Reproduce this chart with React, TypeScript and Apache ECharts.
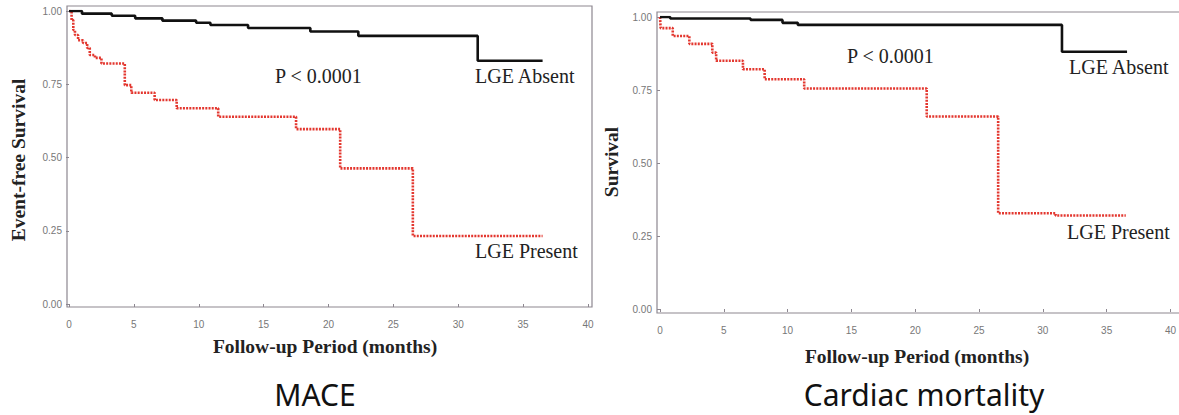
import React, { useEffect, useRef } from "react";
import * as echarts from "echarts";

// MACE (left panel)
const maceAbsentTimes = [0, 1.0, 3.3, 5.1, 7.2, 9.8, 10.9, 13.8, 18.6, 22.3, 31.5, 36.5];
const maceAbsentSurv = [1.0, 0.991, 0.984, 0.975, 0.967, 0.96, 0.952, 0.942, 0.93, 0.915, 0.83, 0.83];
const macePresentTimes = [0, 0.2, 0.33, 0.46, 0.7, 1.08, 1.4, 1.6, 2.0, 2.5, 4.3, 4.8, 6.6, 8.3, 11.5, 17.5, 20.9, 26.5, 36.5];
const macePresentSurv = [1.0, 0.969, 0.935, 0.918, 0.9, 0.891, 0.874, 0.85, 0.84, 0.821, 0.747, 0.721, 0.696, 0.668, 0.639, 0.597, 0.463, 0.232, 0.232];

// Cardiac mortality (right panel)
const cardAbsentTimes = [0, 0.8, 7.1, 9.6, 10.8, 31.5, 36.6];
const cardAbsentSurv = [1.0, 0.995, 0.99, 0.98, 0.973, 0.881, 0.881];
const cardPresentTimes = [0, 0.05, 1.0, 2.3, 4.1, 4.4, 6.5, 8.2, 11.3, 20.9, 26.5, 31.0, 36.5];
const cardPresentSurv = [1.0, 0.962, 0.935, 0.908, 0.878, 0.85, 0.821, 0.787, 0.755, 0.659, 0.328, 0.32, 0.32];

const yTicks = [0, 0.25, 0.5, 0.75, 1.0];
const xTicks = [0, 5, 10, 15, 20, 25, 30, 35, 40];

const pText = "P < 0.0001";
const absentLabel = "LGE Absent";
const presentLabel = "LGE Present";
const xTitle = "Follow-up Period (months)";
const yTitleLeft = "Event-free Survival";
const yTitleRight = "Survival";
const titleLeft = "MACE";
const titleRight = "Cardiac mortality";

const pairs = (t: number[], s: number[]) => t.map((v, i) => [v, s[i]]);

export default function App() {
  const ref = useRef<HTMLDivElement>(null);
  useEffect(() => {
    if (!ref.current) return;
    const chart = echarts.init(ref.current, null, { renderer: "svg" });
    const axisGray = "#8d8790";
    const tickLabel = { color: "#777", fontSize: 10, fontFamily: "Liberation Sans" };
    const mkX = (gi: number, offset: number, margin: number) => ({
      type: "value",
      gridIndex: gi,
      min: xTicks[0],
      max: xTicks[xTicks.length - 1],
      interval: 5,
      offset,
      axisLine: { show: false },
      axisTick: { show: true, length: 3, lineStyle: { color: axisGray } },
      axisLabel: { ...tickLabel, margin },
      splitLine: { show: false },
    });
    const mkY = (gi: number, offset: number, margin: number) => ({
      type: "value",
      gridIndex: gi,
      min: yTicks[0],
      max: yTicks[yTicks.length - 1],
      interval: 0.25,
      offset,
      axisLine: { show: false },
      axisTick: { show: true, length: 3, lineStyle: { color: axisGray } },
      axisLabel: { ...tickLabel, margin, formatter: (v: number) => v.toFixed(2) },
      splitLine: { show: false },
    });
    const blackLine = { color: "#111", width: 2.6 };
    const redLine = { color: "#e3372f", width: 2.6, type: [2, 1.2] };
    const serif = "Liberation Serif";
    const txt = (x: number, y: number, text: string, opts: any = {}) => ({
      type: "text",
      x,
      y,
      silent: true,
      style: {
        text,
        fill: "#222",
        font: `20px '${serif}'`,
        textAlign: "left",
        textVerticalAlign: "middle",
        ...opts,
      },
    });
    const axisTitleFont = `bold 19.5px '${serif}'`;
    chart.setOption({
      animation: false,
      backgroundColor: "#fff",
      grid: [
        { left: 69, top: 11, width: 519, height: 293 },
        { left: 660, top: 17, width: 520, height: 292 },
      ],
      xAxis: [mkX(0, 3, 12), mkX(1, 4, 12)],
      yAxis: [mkY(0, 2, 5), mkY(1, 3, 5)],
      series: [
        { type: "line", xAxisIndex: 0, yAxisIndex: 0, step: "end", showSymbol: false, data: pairs(maceAbsentTimes, maceAbsentSurv), lineStyle: blackLine, z: 3 },
        { type: "line", xAxisIndex: 0, yAxisIndex: 0, step: "end", showSymbol: false, data: pairs(macePresentTimes, macePresentSurv), lineStyle: redLine, z: 2 },
        { type: "line", xAxisIndex: 1, yAxisIndex: 1, step: "end", showSymbol: false, data: pairs(cardAbsentTimes, cardAbsentSurv), lineStyle: blackLine, z: 3 },
        { type: "line", xAxisIndex: 1, yAxisIndex: 1, step: "end", showSymbol: false, data: pairs(cardPresentTimes, cardPresentSurv), lineStyle: redLine, z: 2 },
      ],
      graphic: [
        { type: "rect", shape: { x: 67, y: 6, width: 525, height: 301 }, style: { fill: "none", stroke: axisGray, lineWidth: 1.2 }, silent: true },
        { type: "rect", shape: { x: 657, y: 12, width: 540, height: 301 }, style: { fill: "none", stroke: axisGray, lineWidth: 1.2 }, silent: true },
        txt(275, 76, pText),
        txt(475, 76, absentLabel),
        txt(475, 251, presentLabel),
        txt(847, 56, pText),
        txt(1069, 67, absentLabel),
        txt(1067, 232, presentLabel),
        txt(325, 346, xTitle, { font: axisTitleFont, textAlign: "center" }),
        txt(917, 356, xTitle, { font: axisTitleFont, textAlign: "center" }),
        { ...txt(18, 160, yTitleLeft, { font: axisTitleFont, textAlign: "center" }), rotation: Math.PI / 2 },
        { ...txt(611, 162, yTitleRight, { font: axisTitleFont, textAlign: "center" }), rotation: Math.PI / 2 },
        txt(315, 394, titleLeft, { font: "30px 'Noto Sans'", textAlign: "center", fill: "#111" }),
        txt(924, 394, titleRight, { font: "30px 'Noto Sans'", textAlign: "center", fill: "#111" }),
      ],
    });
    return () => chart.dispose();
  }, []);
  return (
    <div
      ref={ref}
      style={{ position: "absolute", left: 0, top: 0, width: 1179, height: 415, background: "#fff" }}
    />
  );
}
